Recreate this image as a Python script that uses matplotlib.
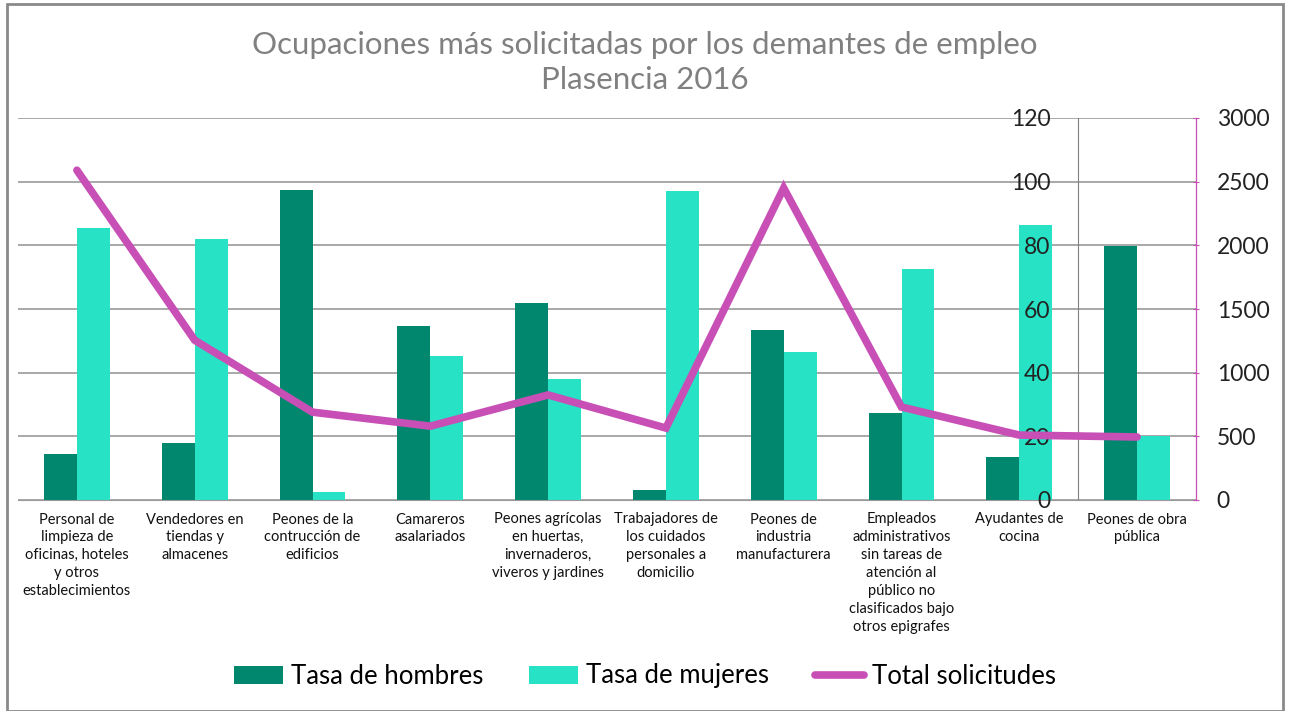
import matplotlib.pyplot as plt
import numpy as np
from matplotlib.patches import Rectangle

plt.rcParams['font.family'] = ['Lato', 'DejaVu Sans']

# data
categorias = [
    "Personal de\nlimpieza de\noficinas, hoteles\ny otros\nestablecimientos",
    "Vendedores en\ntiendas y\nalmacenes",
    "Peones de la\ncontrucción de\nedificios",
    "Camareros\nasalariados",
    "Peones agrícolas\nen huertas,\ninvernaderos,\nviveros y jardines",
    "Trabajadores de\nlos cuidados\npersonales a\ndomicilio",
    "Peones de\nindustria\nmanufacturera",
    "Empleados\nadministrativos\nsin tareas de\natención al\npúblico no\nclasificados bajo\notros epigrafes",
    "Ayudantes de\ncocina",
    "Peones de obra\npública",
]
tasa_hombres = [14.5, 18, 97.4, 54.7, 62, 3, 53.4, 27.3, 13.5, 79.8]
tasa_mujeres = [85.3, 82, 2.6, 45.3, 38, 97, 46.6, 72.7, 86.5, 20.2]
total_solicitudes = [2590, 1255, 690, 580, 825, 565, 2450, 730, 510, 495]
ticks_izq = [0, 20, 40, 60, 80, 100, 120]
ticks_der = [0, 500, 1000, 1500, 2000, 2500, 3000]

verde = '#00876d'
turquesa = '#27e2c5'
rosa = '#c84fb5'
gris = '#9a9a9a'

fig = plt.figure(figsize=(12.9, 7.11), dpi=100)
ax = fig.add_axes([18/1290, 1-500/711, (1196-18)/1290, (500-118)/711])
ax2 = ax.twinx()

x = np.arange(len(categorias))
w = 0.28
# horizontal grid drawn by hand so the tick labels can stay above the bars
for t in ticks_izq:
    ax.axhline(t, color=gris, lw=1.2, zorder=0.5)
ax.bar(x - w/2, tasa_hombres, w, color=verde, label='Tasa de hombres', zorder=1)
ax.bar(x + w/2, tasa_mujeres, w, color=turquesa, label='Tasa de mujeres', zorder=1)
ax2.plot(x, total_solicitudes, color=rosa, lw=5.5, solid_capstyle='round',
         solid_joinstyle='miter', label='Total solicitudes')
ax.set_axisbelow(False)

ax.set_xlim(-0.5, len(categorias) - 0.5)
ax.set_ylim(0, 120)
ax2.set_ylim(0, 3000)
ax.set_yticks(ticks_izq)
ax2.set_yticks(ticks_der)

# left axis sits between the last two categories, as in the original
ax.spines['left'].set_position(('data', 8.5))
ax.spines['left'].set_color('#808080')
ax.spines['left'].set_linewidth(0.8)
ax.spines['top'].set_visible(False)
ax.spines['right'].set_visible(False)
ax.spines['bottom'].set_color(gris)
ax.tick_params(axis='y', length=0, pad=20, labelsize=16.5, labelcolor='#222222')

ax2.spines['right'].set_color(rosa)
ax2.spines['right'].set_linewidth(0.9)
for s in ['top', 'left', 'bottom']:
    ax2.spines[s].set_visible(False)
ax2.tick_params(axis='y', length=4, direction='inout', color=rosa, pad=13,
                labelsize=16.5, labelcolor='#222222')

ax.set_xticks(x)
ax.set_xticklabels(categorias, fontsize=10.5, linespacing=1.35, va='top')
ax.tick_params(axis='x', length=0, pad=9, labelcolor='#111111')

fig.text(0.5, 1-45/711, 'Ocupaciones más solicitadas por los demantes de empleo',
         ha='center', va='center', fontsize=22.5, color='#808080')
fig.text(0.5, 1-80/711, 'Plasencia 2016', ha='center', va='center',
         fontsize=22.5, color='#808080')

h1, l1 = ax.get_legend_handles_labels()
h2, l2 = ax2.get_legend_handles_labels()
fig.legend(h1 + h2, l1 + l2, loc='center', bbox_to_anchor=(0.5, 1-676/711),
           ncol=3, frameon=False, fontsize=18.5, handlelength=1.9,
           handletextpad=0.3, columnspacing=1.8)

fig.patches.append(Rectangle((7/1290, 0), (1283-7)/1290, 1-4/711,
                             transform=fig.transFigure, fill=False,
                             edgecolor='#8a8a8a', lw=2))

fig.savefig('out.png', dpi=100)
